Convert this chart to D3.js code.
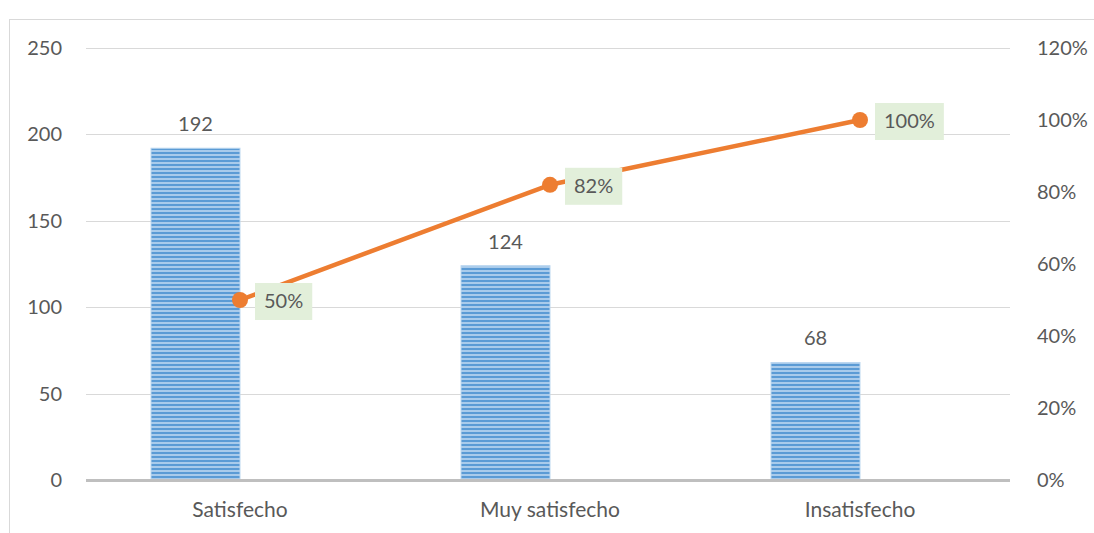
<!DOCTYPE html>
<html>
<head>
<meta charset="utf-8">
<script src="https://cdn.jsdelivr.net/npm/d3@7"></script>
<style>
  html, body { margin: 0; padding: 0; background: #fff; }
  svg { display: block; }
  text { font-family: Lato, "Open Sans", sans-serif; fill: #595959; }
</style>
</head>
<body>
<svg id="chart" width="1094" height="533"></svg>
<script>
// Satisfaction levels, counts and cumulative share
const categories = ["Satisfecho", "Muy satisfecho", "Insatisfecho"];
const counts = [192, 124, 68];
const cumulative = [0.50, 0.82, 1.00];
const cumulativeLabels = ["50%", "82%", "100%"];
const leftTicks = [0, 50, 100, 150, 200, 250];
const rightTicks = [0, 0.2, 0.4, 0.6, 0.8, 1.0, 1.2];

const svg = d3.select("#chart");
const W = 1094, H = 533;
const plot = { left: 86, right: 1010, top: 48, bottom: 480 };
const numSize = 20, catSize = 21;

// outer chart frame
svg.append("rect")
  .attr("x", 9.5).attr("y", 19.5)
  .attr("width", 1100).attr("height", 530)
  .attr("fill", "none").attr("stroke", "#d9d9d9").attr("stroke-width", 1);

const x = d3.scaleBand()
  .domain(categories)
  .range([85, 1015])
  .paddingInner(0).paddingOuter(0);

const yL = d3.scaleLinear().domain([0, 250]).range([plot.bottom, plot.top]);
const yR = d3.scaleLinear().domain([0, 1.2]).range([plot.bottom, plot.top]);

// striped bar fill
const defs = svg.append("defs");
const pat = defs.append("pattern")
  .attr("id", "stripes")
  .attr("patternUnits", "userSpaceOnUse")
  .attr("width", 8).attr("height", 4);
pat.append("rect").attr("width", 8).attr("height", 4).attr("fill", "#a9cbeb");
pat.append("rect").attr("width", 8).attr("height", 2).attr("fill", "#5b9bd5");

// gridlines
svg.append("g")
  .selectAll("line")
  .data(leftTicks.filter(d => d > 0))
  .join("line")
  .attr("x1", plot.left).attr("x2", plot.right)
  .attr("y1", d => Math.round(yL(d)) + 0.5).attr("y2", d => Math.round(yL(d)) + 0.5)
  .attr("stroke", "#d9d9d9").attr("stroke-width", 1);

// left axis labels
const leftAxis = d3.axisLeft(yL).tickValues(leftTicks).tickSize(0).tickPadding(24);
svg.append("g")
  .attr("transform", `translate(${plot.left},0)`)
  .call(leftAxis)
  .call(g => g.select(".domain").remove())
  .call(g => g.selectAll("text").attr("font-size", numSize).style("font-family", "Lato, sans-serif").attr("fill", "#595959"));

// right axis labels
const rightAxis = d3.axisRight(yR).tickValues(rightTicks).tickSize(0).tickPadding(27)
  .tickFormat(d3.format(".0%"));
svg.append("g")
  .attr("transform", `translate(${plot.right},0)`)
  .call(rightAxis)
  .call(g => g.select(".domain").remove())
  .call(g => g.selectAll("text").attr("font-size", numSize).style("font-family", "Lato, sans-serif").attr("fill", "#595959"));

// bars occupy the left half of each category slot
const barW = 89;
const center = c => x(c) + x.bandwidth() / 2;

svg.append("g")
  .selectAll("rect")
  .data(categories)
  .join("rect")
  .attr("x", c => center(c) - barW)
  .attr("width", barW)
  .attr("y", (c, i) => yL(counts[i]))
  .attr("height", (c, i) => yL(0) - yL(counts[i]))
  .attr("fill", "url(#stripes)")
  .attr("stroke", "#bcd7f0").attr("stroke-width", 1);

// bar value labels
svg.append("g")
  .selectAll("text")
  .data(categories)
  .join("text")
  .attr("x", c => center(c) - barW / 2)
  .attr("y", (c, i) => yL(counts[i]) - 17)
  .attr("text-anchor", "middle")
  .attr("font-size", numSize)
  .text((c, i) => counts[i]);

// baseline
svg.append("line")
  .attr("x1", plot.left).attr("x2", plot.right)
  .attr("y1", yL(0) + 0.5).attr("y2", yL(0) + 0.5)
  .attr("stroke", "#bfbfbf").attr("stroke-width", 3);

// category labels
svg.append("g")
  .selectAll("text")
  .data(categories)
  .join("text")
  .attr("x", c => center(c))
  .attr("y", yL(0) + 37)
  .attr("text-anchor", "middle")
  .attr("font-size", catSize)
  .text(c => c);

// cumulative line
const line = d3.line()
  .x((d, i) => center(categories[i]))
  .y(d => yR(d));
svg.append("path")
  .datum(cumulative)
  .attr("d", line)
  .attr("fill", "none")
  .attr("stroke", "#ed7d31")
  .attr("stroke-width", 4.5)
  .attr("stroke-linejoin", "round");

svg.append("g")
  .selectAll("circle")
  .data(cumulative)
  .join("circle")
  .attr("cx", (d, i) => center(categories[i]))
  .attr("cy", d => yR(d))
  .attr("r", 8)
  .attr("fill", "#ed7d31");

// cumulative labels in shaded boxes
const lab = svg.append("g")
  .selectAll("g")
  .data(cumulative)
  .join("g")
  .attr("transform", (d, i) => `translate(${center(categories[i]) + 15},${yR(d)})`);

lab.append("text")
  .attr("x", 9)
  .attr("y", 1)
  .attr("dy", "0.36em")
  .attr("font-size", numSize)
  .text((d, i) => cumulativeLabels[i]);

lab.each(function () {
  const g = d3.select(this);
  const bb = g.select("text").node().getBBox();
  g.insert("rect", "text")
    .attr("x", 0)
    .attr("y", -17)
    .attr("width", bb.width + 18)
    .attr("height", 37)
    .attr("fill", "#e2efda");
});
</script>
</body>
</html>
